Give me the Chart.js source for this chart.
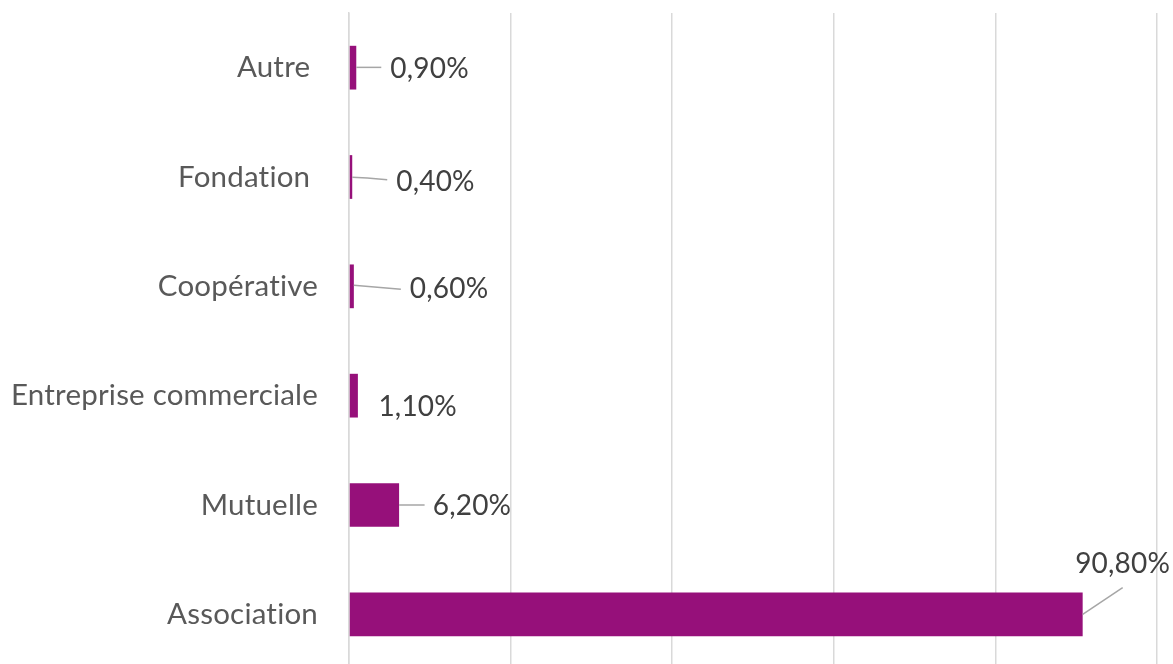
<!DOCTYPE html>
<html>
<head>
<meta charset="utf-8">
<script src="https://cdn.jsdelivr.net/npm/chart.js@4/dist/chart.umd.min.js"></script>
<style>
  html, body { margin: 0; padding: 0; background: #ffffff; overflow: hidden; }
  #wrap { position: relative; width: 1173px; height: 669px; }
</style>
</head>
<body>
<div id="wrap"><canvas id="c"></canvas></div>
<script>
// ---- data ----
const categories = ["Autre ", "Fondation ", "Coopérative", "Entreprise commerciale", "Mutuelle", "Association"];
const values = [0.9, 0.4, 0.6, 1.1, 6.2, 90.8];
const valueLabels = ["0,90%", "0,40%", "0,60%", "1,10%", "6,20%", "90,80%"];
const xTicks = [0, 20, 40, 60, 80, 100];

// ---- label placement (style, relative to bar end / bar centre) ----
const labelPlacement = [
  { dx: 34, dy: 1.5, leader: [[0, -0.3], [25, -0.3]] },
  { dx: 44, dy: 5.2, leader: [[0, 0.2], [15, 1], [35, 2.8]] },
  { dx: 56, dy: 2.3, leader: [[0, -1], [47, 3]] },
  { dx: 20.5, dy: 11.4, leader: null },
  { dx: 33.6, dy: 0.5, leader: [[0, 0], [25.5, 0]] },
  { dx: -7.5, dy: -50.2, leader: [[0, 0], [40, -26.8]] }
];

const FONT = "Lato, 'Open Sans', sans-serif";

const noLigaturePlugin = {
  id: 'noLigatures',
  beforeDraw(chart) {
    if ('letterSpacing' in chart.ctx) chart.ctx.letterSpacing = '0.2px';
  }
};

const labelPlugin = {
  id: 'valueLabels',
  afterDatasetsDraw(chart) {
    const ctx = chart.ctx;
    const meta = chart.getDatasetMeta(0);
    ctx.save();
    meta.data.forEach((bar, i) => {
      const p = labelPlacement[i];
      const xEnd = bar.x;
      const yc = bar.y;
      if (p.leader) {
        ctx.beginPath();
        ctx.strokeStyle = '#a6a6a6';
        ctx.lineWidth = 1.5;
        p.leader.forEach((pt, k) => {
          const px = xEnd + pt[0], py = yc + pt[1];
          if (k === 0) ctx.moveTo(px, py); else ctx.lineTo(px, py);
        });
        ctx.stroke();
      }
      ctx.fillStyle = '#404040';
      ctx.font = "28px " + FONT;
      ctx.textAlign = 'left';
      ctx.textBaseline = 'middle';
      ctx.fillText(valueLabels[i], xEnd + p.dx, yc + p.dy);
    });
    ctx.restore();
  }
};

new Chart(document.getElementById('c'), {
  type: 'bar',
  data: {
    labels: categories,
    datasets: [{
      data: values,
      backgroundColor: '#96107A',
      borderWidth: 0,
      categoryPercentage: 1,
      barPercentage: 0.4
    }]
  },
  options: {
    indexAxis: 'y',
    responsive: true,
    maintainAspectRatio: false,
    animation: false,
    layout: { padding: { top: 13, right: 16, left: 0, bottom: 0 } },
    plugins: {
      legend: { display: false },
      tooltip: { enabled: false }
    },
    scales: {
      x: {
        min: 0,
        max: 100,
        afterBuildTicks(scale) { scale.ticks = xTicks.map(v => ({ value: v })); },
        afterFit(scale) { scale.paddingLeft = 0; scale.paddingRight = 0; },
        ticks: { display: false },
        grid: { color: '#d9d9d9', lineWidth: 1.5, drawTicks: false },
        border: { display: false }
      },
      y: {
        afterFit(scale) {
          scale.width = 349;
          scale.paddingTop = 0;
          scale.paddingBottom = 0;
        },
        ticks: {
          color: '#595959',
          padding: 31,
          font: { family: FONT, size: 29.5 }
        },
        grid: { display: false, drawTicks: false },
        border: { display: true, color: '#d9d9d9', width: 1.5 }
      }
    }
  },
  plugins: [noLigaturePlugin, labelPlugin]
});
</script>
</body>
</html>
